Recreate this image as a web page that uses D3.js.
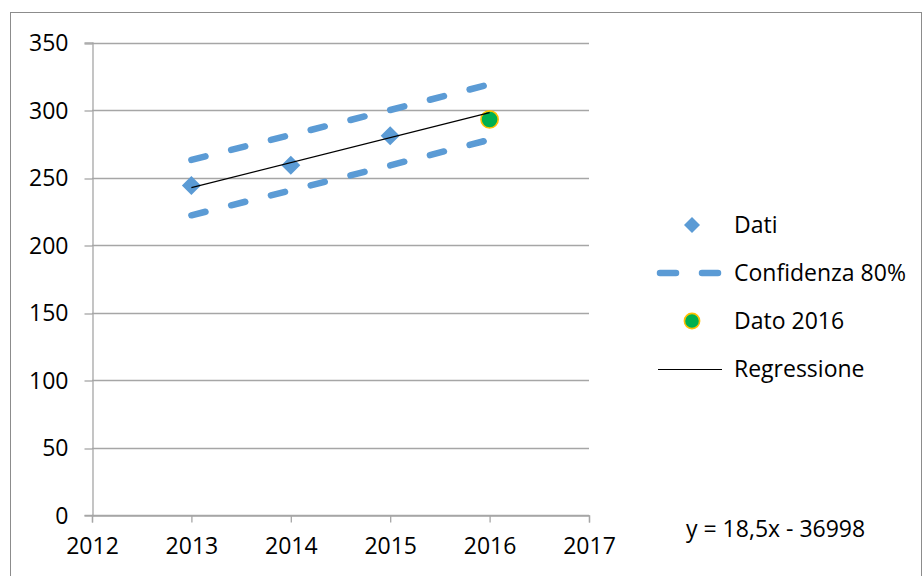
<!DOCTYPE html>
<html>
<head>
<meta charset="utf-8">
<script src="https://cdn.jsdelivr.net/npm/d3@7"></script>
<style>
  html, body { margin: 0; padding: 0; background: #fff; }
  svg { display: block; }
  text { font-family: "Open Sans", sans-serif; font-size: 23px; fill: #000; }
</style>
</head>
<body>
<svg id="chart" width="922" height="576"></svg>
<script>
// Observed values (2013-2015) and the 2016 value
const years = [2013, 2014, 2015];
const dati = [244, 259, 281];
const dato2016 = { year: 2016, value: 293 };

// 80% confidence band around the regression
const bandYears = [2013, 2014, 2015, 2016];
const bandUpper = [263, 281.5, 300, 319];
const bandLower = [222, 240.5, 259, 278];

// Linear regression y = 18.5x - 36998
const slope = 18.5;
const intercept = -36998;
const regYears = [2013, 2016];

const xTicks = [2012, 2013, 2014, 2015, 2016, 2017];
const yTicks = [0, 50, 100, 150, 200, 250, 300, 350];
const legendLabels = ["Dati", "Confidenza 80%", "Dato 2016", "Regressione"];
const equationLabel = "y = 18,5x - 36998";

const blue = "#5B9BD5";
const grid = "#A6A6A6";

const svg = d3.select("#chart");

// outer chart frame
svg.append("rect")
  .attr("x", 10.5).attr("y", 12.5)
  .attr("width", 911).attr("height", 620)
  .attr("fill", "none").attr("stroke", "#8C8C8C").attr("stroke-width", 1);

const x = d3.scaleLinear().domain([2012, 2017]).range([92, 589]);
const y = d3.scaleLinear().domain([0, 350]).range([515, 42.5]);

// horizontal gridlines
svg.append("g")
  .selectAll("line")
  .data(yTicks)
  .join("line")
  .attr("x1", x(2012)).attr("x2", x(2017))
  .attr("y1", d => Math.round(y(d)) + 0.5).attr("y2", d => Math.round(y(d)) + 0.5)
  .attr("stroke", grid).attr("stroke-width", 1.3);

// y axis
const yAxis = svg.append("g")
  .attr("transform", `translate(${Math.round(x(2012)) + 0.5},0)`)
  .call(d3.axisLeft(y).tickValues(yTicks).tickSize(8).tickPadding(16)
    .tickFormat(d3.format("d")));
yAxis.select(".domain").attr("stroke", grid).attr("stroke-width", 1.3);
yAxis.selectAll(".tick line").attr("stroke", grid).attr("stroke-width", 1.3)
  .attr("transform", d => `translate(0,${Math.round(y(d)) + 0.5 - y(d)})`);
yAxis.selectAll(".tick text")
  .style("font-family", "'Open Sans', sans-serif").style("font-size", "23px")
  .attr("fill", "#000").attr("dy", "0.36em");

// x axis
const xAxis = svg.append("g")
  .attr("transform", `translate(0,${Math.round(y(0)) + 0.5})`)
  .call(d3.axisBottom(x).tickValues(xTicks).tickSize(7).tickPadding(10)
    .tickFormat(d3.format("d")));
xAxis.select(".domain").attr("stroke", grid).attr("stroke-width", 1.3);
xAxis.selectAll(".tick line").attr("stroke", grid).attr("stroke-width", 1.3);
xAxis.selectAll(".tick text")
  .style("font-family", "'Open Sans', sans-serif").style("font-size", "23px")
  .attr("fill", "#000").attr("dy", "0.95em");

// confidence band (dashed)
const bandLine = d3.line().x((d, i) => x(bandYears[i])).y(d => y(d));
[bandUpper, bandLower].forEach(vals => {
  svg.append("path")
    .attr("d", bandLine(vals))
    .attr("fill", "none")
    .attr("stroke", blue)
    .attr("stroke-width", 6.5)
    .attr("stroke-linecap", "round")
    .attr("stroke-dasharray", "14.5 26.5");
});

// data points (diamonds)
const diamond = s => `M0,${-s} L${s},0 L0,${s} L${-s},0 Z`;
svg.append("g")
  .selectAll("path")
  .data(dati)
  .join("path")
  .attr("d", diamond(9.5))
  .attr("transform", (d, i) => `translate(${x(years[i])},${y(d)})`)
  .attr("fill", blue);

// 2016 value
svg.append("circle")
  .attr("cx", x(dato2016.year)).attr("cy", y(dato2016.value))
  .attr("r", 8.6)
  .attr("fill", "#00B050")
  .attr("stroke", "#FFC000").attr("stroke-width", 1.6);

// regression line
svg.append("line")
  .attr("x1", x(regYears[0])).attr("y1", y(slope * regYears[0] + intercept))
  .attr("x2", x(regYears[1])).attr("y2", y(slope * regYears[1] + intercept))
  .attr("stroke", "#000").attr("stroke-width", 1.2);

// legend
const legendY = [225, 273, 321, 369];
const lg = svg.append("g");
lg.selectAll("text")
  .data(legendLabels)
  .join("text")
  .attr("x", 734)
  .attr("y", (d, i) => legendY[i])
  .attr("dy", "0.36em")
  .text(d => d);

lg.append("path").attr("d", diamond(8))
  .attr("transform", `translate(692,${legendY[0]})`).attr("fill", blue);
lg.append("line")
  .attr("x1", 660).attr("x2", 720)
  .attr("y1", legendY[1]).attr("y2", legendY[1])
  .attr("stroke", blue).attr("stroke-width", 6.5)
  .attr("stroke-linecap", "round").attr("stroke-dasharray", "16 26");
lg.append("circle").attr("cx", 692).attr("cy", legendY[2]).attr("r", 7.6)
  .attr("fill", "#00B050").attr("stroke", "#FFC000").attr("stroke-width", 1.6);
lg.append("line")
  .attr("x1", 658).attr("x2", 722)
  .attr("y1", legendY[3] + 0.5).attr("y2", legendY[3] + 0.5)
  .attr("stroke", "#000").attr("stroke-width", 1.2);

// regression equation
svg.append("text")
  .attr("x", 686).attr("y", 537)
  .text(equationLabel);
</script>
</body>
</html>
